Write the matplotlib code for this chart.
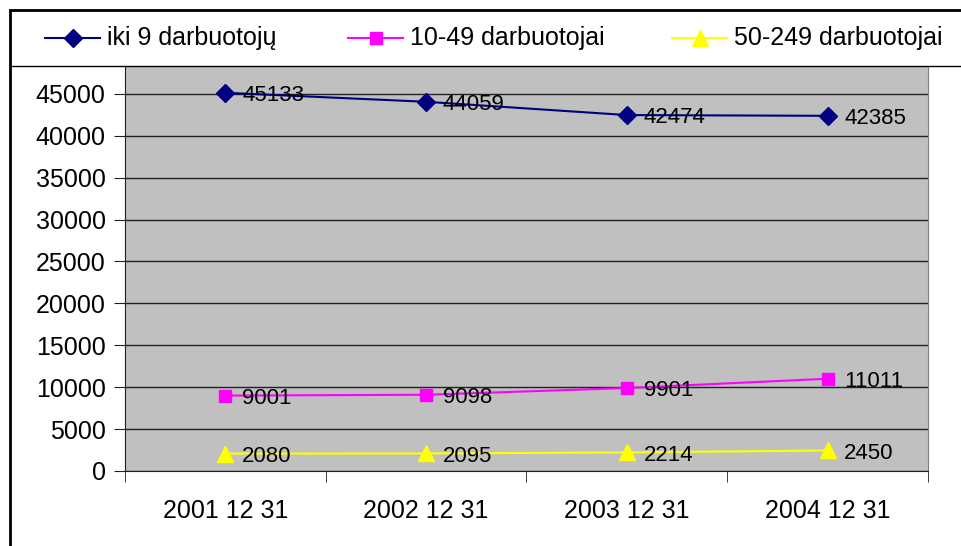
import matplotlib.pyplot as plt
from matplotlib.patches import Rectangle
from matplotlib.lines import Line2D

plt.rcParams['font.family'] = ['Liberation Sans', 'DejaVu Sans']

# duomenys
datos = ['2001 12 31', '2002 12 31', '2003 12 31', '2004 12 31']
iki_9 = [45133, 44059, 42474, 42385]
nuo_10_49 = [9001, 9098, 9901, 11011]
nuo_50_249 = [2080, 2095, 2214, 2450]
serijos = ['iki 9 darbuotojų', '10-49 darbuotojai', '50-249 darbuotojai']

W, H = 961, 546
fig = plt.figure(figsize=(W / 100, H / 100), dpi=100)
ax = fig.add_axes([125 / W, 75 / H, 803 / W, 419 / H])
ax.set_facecolor('#C0C0C0')

x = range(len(datos))
stiliai = [('#000080', 'D', 9), ('#FF00FF', 's', 9), ('#FFFF00', '^', 11)]
for vals, (c, m, ms) in zip([iki_9, nuo_10_49, nuo_50_249], stiliai):
    ax.plot(x, vals, color=c, marker=m, markersize=ms, linewidth=1.5, zorder=3)
    for xi, v in zip(x, vals):
        ax.annotate(str(v), (xi, v), xytext=(12, -2), textcoords='offset points',
                    ha='left', va='center', fontsize=16, zorder=4)

ax.set_xlim(-0.5, 3.5)
ax.set_ylim(0, 50000)
ax.set_yticks(range(0, 50001, 5000))
ax.set_yticklabels([str(v) for v in range(0, 50001, 5000)], fontsize=18)
ax.yaxis.grid(True, color='#202020', linewidth=1)
ax.set_axisbelow(True)
ax.set_xticks(list(x))
ax.set_xticklabels(datos, fontsize=18)
ax.set_xticks([-0.5, 0.5, 1.5, 2.5, 3.5], minor=True)
ax.tick_params(axis='x', which='major', length=0, pad=20)
ax.tick_params(axis='x', which='minor', length=8, direction='out', color='#202020')
ax.tick_params(axis='y', length=8, direction='out', color='#202020', pad=6)
ax.spines['top'].set_visible(False)
ax.spines['right'].set_color('#808080')
ax.spines['left'].set_color('#202020')
ax.spines['bottom'].set_color('#202020')

# legendos juosta ir remelis
fig.patches.append(Rectangle((10 / W, 480 / H), 1.0, 56 / H, transform=fig.transFigure,
                             facecolor='white', edgecolor='black', linewidth=1, zorder=5))
fig.patches.append(Rectangle((10 / W, -0.1), 1.0, 1.0817, transform=fig.transFigure,
                             facecolor='none', edgecolor='black', linewidth=2, zorder=6))

# legendos irasai
leg_x = [45, 348, 672]
leg_y = (H - 38) / H
for x0, pav, (c, m, ms) in zip(leg_x, serijos, stiliai):
    fig.add_artist(Line2D([x0 / W, (x0 + 55) / W], [leg_y, leg_y], color=c,
                          linewidth=1.5, transform=fig.transFigure, zorder=7))
    fig.add_artist(Line2D([(x0 + 27.5) / W], [leg_y], color=c, marker=m, markersize=ms,
                          transform=fig.transFigure, zorder=7))
    fig.text((x0 + 62) / W, leg_y, pav, fontsize=18, ha='left', va='center', zorder=8)

fig.savefig('out.png', dpi=100)
